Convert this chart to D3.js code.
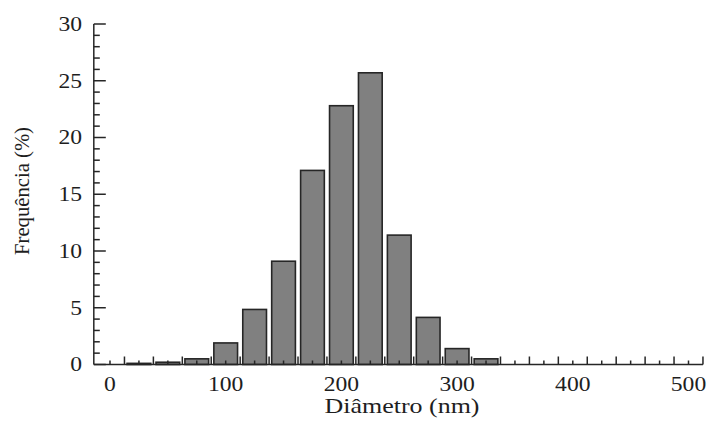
<!DOCTYPE html>
<html>
<head>
<meta charset="utf-8">
<script src="https://cdn.jsdelivr.net/npm/d3@7"></script>
<style>
  body { margin: 0; background: #fff; }
  text { font-family: "Liberation Serif", serif; fill: #1e1e1e; }
</style>
</head>
<body>
<div id="main"></div>
<script>
// histogram: bin centres (nm) and frequency (%)
const binCenters = [25, 50, 75, 100, 125, 150, 175, 200, 225, 250, 275, 300, 325];
const freq = [0.1, 0.2, 0.5, 1.9, 4.85, 9.1, 17.1, 22.8, 25.7, 11.4, 4.15, 1.4, 0.5];
const xTickLabels = [0, 100, 200, 300, 400, 500];
const yTickLabels = [0, 5, 10, 15, 20, 25, 30];

const width = 708, height = 422;
const binWidth = 20.5;
const stretch = 1.18; // source picture is wider than tall

const x = d3.scaleLinear().domain([0, 500]).range([110, 688.5]);
const y = d3.scaleLinear().domain([0, 30]).range([364.5, 24]);

const svg = d3.select("#main").append("svg")
    .attr("width", width)
    .attr("height", height);

// bars
svg.append("g")
    .attr("fill", "#808080")
    .attr("stroke", "#262626")
    .attr("stroke-width", 1.6)
    .selectAll("rect")
    .data(binCenters)
    .join("rect")
    .attr("x", d => x(d - binWidth / 2))
    .attr("width", x(binWidth) - x(0))
    .attr("y", (d, i) => y(freq[i]))
    .attr("height", (d, i) => y(0) - y(freq[i]));

// x axis: short ticks at bin centres, long ticks at bin edges
const xCentres = d3.range(0, 500.1, 25);
const xEdges = d3.range(12.5, 512.6, 25);

const xAxis = svg.append("g")
    .attr("stroke", "#262626")
    .attr("stroke-width", 1.5);
xAxis.append("line")
    .attr("x1", x(-14)).attr("x2", x(512.5))
    .attr("y1", y(0)).attr("y2", y(0));
xAxis.selectAll(".short")
    .data(xCentres)
    .join("line")
    .attr("class", "short")
    .attr("x1", d => x(d)).attr("x2", d => x(d))
    .attr("y1", y(0)).attr("y2", y(0) - 4);
xAxis.selectAll(".long")
    .data(xEdges)
    .join("line")
    .attr("class", "long")
    .attr("x1", d => x(d)).attr("x2", d => x(d))
    .attr("y1", y(0)).attr("y2", y(0) - 8);

// y axis: major every 5, minor every 1
const yAxis = svg.append("g")
    .attr("stroke", "#262626")
    .attr("stroke-width", 1.5);
yAxis.append("line")
    .attr("x1", x(-14)).attr("x2", x(-14))
    .attr("y1", y(0)).attr("y2", y(30));
yAxis.selectAll(".tick")
    .data(d3.range(0, 30.1, 1))
    .join("line")
    .attr("class", "tick")
    .attr("x1", x(-14))
    .attr("x2", d => x(-14) + (d % 5 === 0 ? 12 : 6))
    .attr("y1", d => y(d)).attr("y2", d => y(d));

// tick labels
svg.append("g")
    .selectAll("text")
    .data(xTickLabels)
    .join("text")
    .attr("text-anchor", "middle")
    .attr("font-size", 20)
    .attr("transform", d => `translate(${x(d)},${y(0) + 26.5}) scale(${stretch},1)`)
    .text(d => d);

svg.append("g")
    .selectAll("text")
    .data(yTickLabels)
    .join("text")
    .attr("text-anchor", "end")
    .attr("font-size", 20)
    .attr("transform", d => `translate(82,${y(d) + 6.8}) scale(${stretch},1)`)
    .text(d => d);

// axis titles
svg.append("text")
    .attr("text-anchor", "middle")
    .attr("font-size", 21)
    .attr("x", 402)
    .attr("y", 413)
    .attr("textLength", 155)
    .attr("lengthAdjust", "spacingAndGlyphs")
    .text("Diâmetro (nm)");

svg.append("text")
    .attr("text-anchor", "middle")
    .attr("font-size", 21.5)
    .attr("transform", "translate(29,191) rotate(-90)")
    .attr("textLength", 128)
    .attr("lengthAdjust", "spacingAndGlyphs")
    .text("Frequência (%)");
</script>
</body>
</html>
